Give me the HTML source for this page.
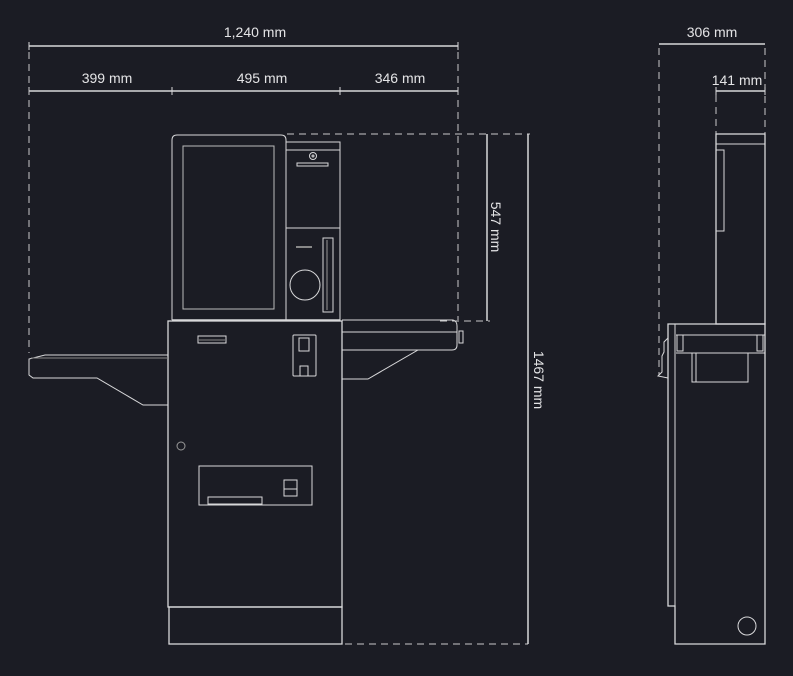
<!DOCTYPE html>
<html><head><meta charset="utf-8"><style>
html,body{margin:0;padding:0;background:#1b1c24;}
svg{display:block}
text{font-family:"Liberation Sans",sans-serif;font-size:14px;fill:#e4e4e6;}
</style></head><body>
<svg width="793" height="676" viewBox="0 0 793 676" xmlns="http://www.w3.org/2000/svg">
<rect width="793" height="676" fill="#1b1c24"/>
<g stroke="#d8d8da" stroke-width="1" fill="none">
<!-- dims front -->
<line x1="29" y1="46" x2="458" y2="46" stroke-width="1.5"/>
<line x1="29" y1="42" x2="29" y2="50"/><line x1="458" y1="42" x2="458" y2="50"/>
<line x1="29" y1="91" x2="458" y2="91" stroke-width="1.5"/>
<line x1="29" y1="87" x2="29" y2="95"/><line x1="172" y1="87" x2="172" y2="95"/><line x1="340" y1="87" x2="340" y2="95"/><line x1="458" y1="87" x2="458" y2="95"/>
<g stroke-dasharray="7,5" stroke="#c8c8ca">
<line x1="29" y1="52" x2="29" y2="353"/>
<line x1="458" y1="52" x2="458" y2="320"/>
<line x1="287" y1="134" x2="530" y2="134"/>
<line x1="440" y1="321" x2="490" y2="321"/>
<line x1="345" y1="644" x2="528" y2="644"/>
<line x1="659" y1="48" x2="659" y2="375"/>
<line x1="716" y1="95" x2="716" y2="134"/>
<line x1="765" y1="48" x2="765" y2="134"/>
</g>
<line x1="487" y1="134" x2="487" y2="321" stroke-width="1.5"/>
<line x1="528" y1="134" x2="528" y2="644" stroke-width="1.5"/>
<!-- side dims -->
<line x1="659" y1="44" x2="765" y2="44" stroke-width="1.5"/>
<line x1="716" y1="91" x2="765" y2="91" stroke-width="1.5"/>
<line x1="716" y1="87" x2="716" y2="95"/><line x1="765" y1="87" x2="765" y2="95"/>

<!-- screen unit -->
<path d="M172 320 V140 Q172 135 177 135 H281 Q286 135 286 140 V320"/>
<rect x="183" y="146" width="91" height="163" stroke="#bbb"/>
<rect x="286" y="142" width="54" height="178"/>
<line x1="286" y1="150" x2="340" y2="150"/>
<line x1="286" y1="228" x2="340" y2="228"/>
<circle cx="313" cy="156" r="3.5"/><circle cx="313" cy="156" r="1" />
<rect x="297" y="163" width="31" height="3"/>
<line x1="296" y1="247" x2="312" y2="247" stroke-width="2" stroke="#888"/>
<circle cx="305" cy="285" r="15"/>
<rect x="323" y="238" width="10" height="74"/>
<line x1="327" y1="240" x2="327" y2="310" stroke="#999"/>
<line x1="172" y1="320" x2="340" y2="320" stroke-width="1.5"/>

<!-- base -->
<rect x="168" y="321" width="174" height="286" stroke-width="1.3"/>
<rect x="169" y="607" width="173" height="37" stroke-width="1.3"/>
<rect x="198" y="336" width="28" height="7"/>
<line x1="199" y1="340" x2="225" y2="340" stroke="#888"/>
<rect x="293" y="335" width="23" height="41" rx="1"/>
<rect x="299" y="338" width="10" height="13"/>
<rect x="300" y="366" width="8" height="10"/>
<circle cx="181" cy="446" r="4" stroke="#999"/>
<rect x="199" y="466" width="113" height="39"/>
<rect x="208" y="497" width="54" height="7"/>
<rect x="284" y="480" width="13" height="16"/>
<line x1="284" y1="489" x2="297" y2="489"/>

<!-- left shelf -->
<path d="M168 355 H45 L29 359 V375 L33 378 H97 L143 405 H168"/>
<line x1="31" y1="358" x2="168" y2="358" stroke="#888"/>
<!-- right shelf -->
<path d="M342 320 H453 Q457 321 457 326 V345 Q457 350 452 350 H418 L368 379 H342"/>
<line x1="342" y1="332" x2="457" y2="332"/>
<line x1="342" y1="350" x2="418" y2="350"/>
<rect x="459" y="331" width="4" height="12"/>

<!-- side view -->
<rect x="716" y="134" width="49" height="190" stroke-width="1.3"/>
<line x1="716" y1="144" x2="765" y2="144"/>
<path d="M716 150 H724 V231 H716"/>
<path d="M668 606 V324 H765 V644 H675 V606 Z" stroke-width="1.3"/>
<line x1="675" y1="324" x2="675" y2="606"/>
<line x1="676" y1="335" x2="765" y2="335"/>
<rect x="677" y="335" width="6" height="16"/>
<rect x="757" y="335" width="6" height="16"/>
<line x1="676" y1="353" x2="765" y2="353"/>
<rect x="692" y="353" width="56" height="29"/>
<line x1="696" y1="353" x2="696" y2="382"/>
<path d="M668 338 L664 342 V352 L662 356 V372 L658 376 L668 378" />
<circle cx="747" cy="626" r="9"/>
</g>
<g fill="#e4e4e6">
<text x="255" y="37" text-anchor="middle">1,240 mm</text>
<text x="107" y="83" text-anchor="middle">399 mm</text>
<text x="262" y="83" text-anchor="middle">495 mm</text>
<text x="400" y="83" text-anchor="middle">346 mm</text>
<text x="712" y="37" text-anchor="middle">306 mm</text>
<text x="737" y="85" text-anchor="middle">141 mm</text>
<text transform="translate(491,227) rotate(90)" text-anchor="middle">547 mm</text>
<text transform="translate(534,380) rotate(90)" text-anchor="middle">1467 mm</text>
</g>
</svg>
</body></html>
